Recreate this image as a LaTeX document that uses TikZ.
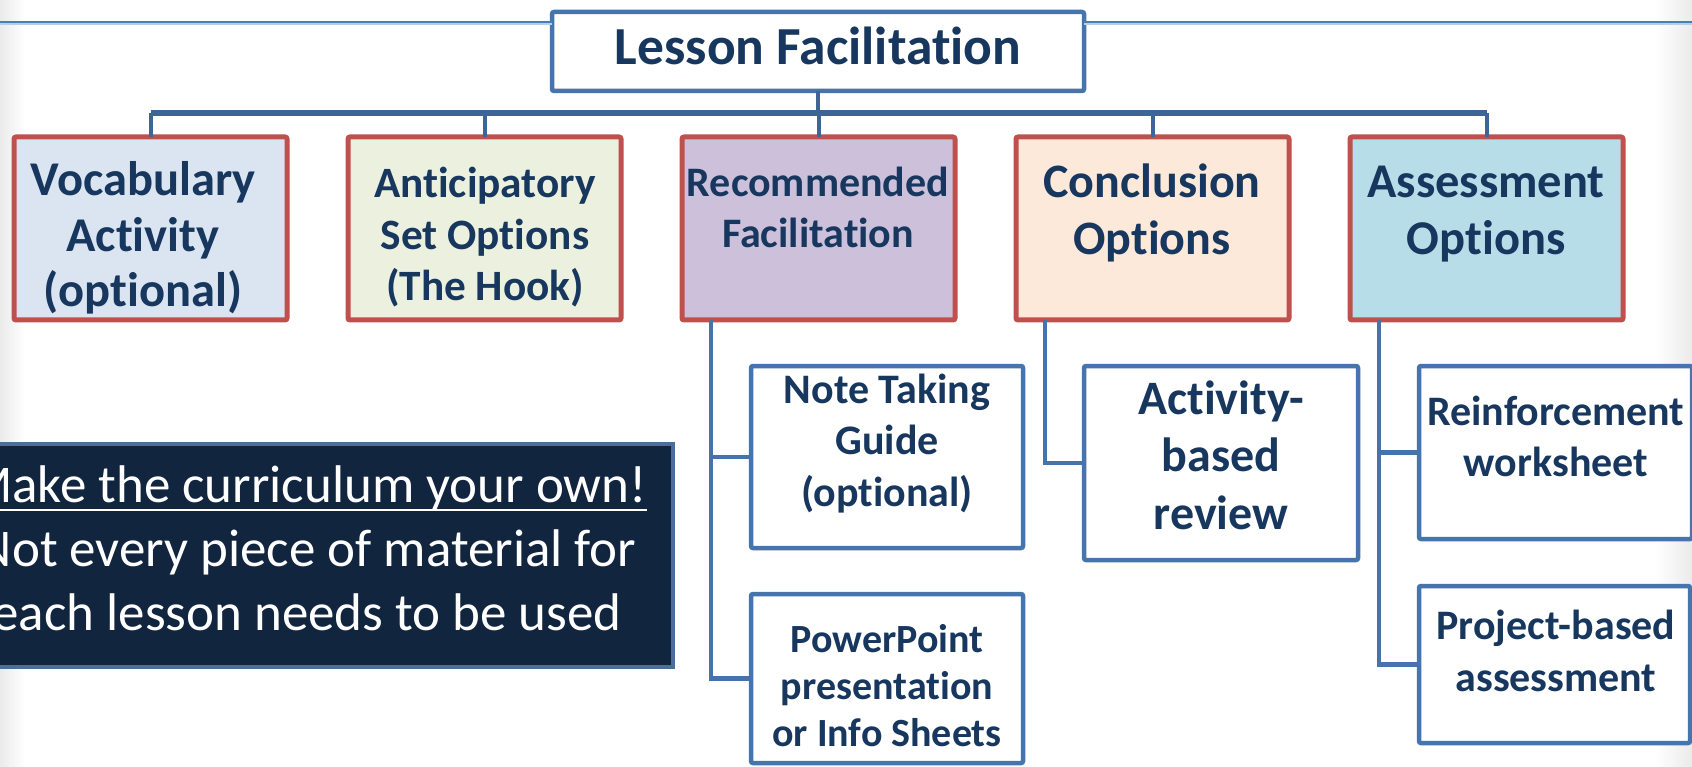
\documentclass[tikz,border=0pt]{standalone}
\usepackage{fontspec}
\setmainfont{Carlito}[Ligatures={NoCommon,NoContextual},Contextuals=NoAlternate]
\definecolor{navy}{HTML}{17375E}
\definecolor{redb}{HTML}{C0504D}
\definecolor{blueb}{HTML}{4674AC}
\definecolor{connA}{HTML}{3D6597}
\definecolor{connB}{HTML}{4673AB}
\definecolor{fvoc}{HTML}{DBE5F1}
\definecolor{fant}{HTML}{EBF1DE}
\definecolor{frec}{HTML}{CCC0DA}
\definecolor{fcon}{HTML}{FDE9D9}
\definecolor{fass}{HTML}{B7DEE8}
\definecolor{darkfill}{HTML}{12253F}
\definecolor{darkb}{HTML}{4A6E9E}
\definecolor{topline}{HTML}{4A7EBB}
\definecolor{toplight}{HTML}{B9CDE5}
\newcommand\stacktext[6]{%
  \foreach \t [count=\i] in {#6} {%
    \node[txt, font=\fontsize{#5}{#5}\selectfont\bfseries] (#1-\i) at (#2, {#3+(\i-1)*#4}) {\t};}}
\begin{document}
\begin{tikzpicture}[x=1pt,y=-1pt,
  txt/.style={inner sep=0pt, outer sep=0pt, text=navy, anchor=base},
  lvlone/.style={draw=redb, line width=5pt, rounded corners=2pt, inner sep=0pt, outer sep=0pt,
                 minimum width=273pt, minimum height=183pt},
  lvltwo/.style={draw=blueb, fill=white, line width=4.5pt, rounded corners=2pt, inner sep=0pt, outer sep=0pt},
  connup/.style={draw=connA, line width=4pt},
  barline/.style={draw=connA, line width=5.5pt},
  conndown/.style={draw=connB, line width=4.5pt}]
\useasboundingbox (0,0) rectangle (1692,767);
\clip (0,0) rectangle (1692,767);
\fill[white] (0,0) rectangle (1692,767);
\shade[left color=black!8, right color=white] (0,0) rectangle (25,767);
\shade[left color=white, right color=black!8] (1655,0) rectangle (1692,767);

% title box and top decorative line
\node[draw=blueb, fill=white, line width=4.5pt, rounded corners=2pt, inner sep=0pt, outer sep=0pt,
      minimum width=532pt, minimum height=79pt] (lesson) at (818,51.5) {};
\node[txt, font=\fontsize{53.5}{53.5}\selectfont\bfseries] (lessontxt) at (818,65) {Lesson Facilitation};
\coordinate (tl) at (0,22);
\coordinate (tr) at (1692,22);
\draw[toplight, line width=2pt] ([yshift=-2.5pt]tl) -- ([yshift=-2.5pt]tl -| lesson.west);
\draw[toplight, line width=2pt] ([yshift=-2.5pt]tr) -- ([yshift=-2.5pt]tr -| lesson.east);
\draw[topline, line width=2.5pt] (tl) -- (tl -| lesson.west);
\draw[topline, line width=2.5pt] (tr) -- (tr -| lesson.east);

% level one boxes
\node[lvlone, fill=fvoc] (voc) at (150.5,228.5) {};
\node[lvlone, fill=fant] (ant) at (484.5,228.5) {};
\node[lvlone, fill=frec] (rec) at (818.5,228.5) {};
\node[lvlone, fill=fcon] (con) at (1152.5,228.5) {};
\node[lvlone, fill=fass] (ass) at (1486.5,228.5) {};

\stacktext{voctxt}{143}{196}{55.5}{48.5}{{Vocabulary},{Activity},{(optional)}}
\stacktext{anttxt}{485}{198}{51.5}{43.3}{{Anticipatory},{Set Options},{(The Hook)}}
\stacktext{rectxt}{818}{197}{51}{42}{{Recommended},{Facilitation}}
\stacktext{contxt}{1152}{198}{57}{48}{{Conclusion},{Options}}
\stacktext{asstxt}{1486}{198}{57}{48.5}{{Assessment},{Options}}

% tree connectors
\coordinate (bar) at (818,113);
\draw[connup] (lesson.south) -- (bar);
\draw[barline] (voc.north |- bar) -- (ass.north |- bar);
\foreach \n in {voc,ant,rec,con,ass} {\draw[connup] (\n.north) -- (\n.north |- bar);}

% level two boxes
\node[lvltwo, minimum width=272pt, minimum height=182pt] (note) at (887,457) {};
\node[lvltwo, minimum width=272pt, minimum height=169pt] (ppt) at (887,678.5) {};
\node[lvltwo, minimum width=274pt, minimum height=194pt] (act) at (1221,463) {};
\node[lvltwo, minimum width=273pt, minimum height=173pt] (rei) at (1555.5,452.5) {};
\node[lvltwo, minimum width=271pt, minimum height=157pt] (pro) at (1554.5,664.5) {};

\stacktext{notetxt}{887}{403}{51.5}{42}{{Note Taking},{Guide},{(optional)}}
\stacktext{ppttxt}{887}{652}{47}{40}{{PowerPoint},{presentation},{or Info Sheets}}
\stacktext{acttxt}{1221}{414}{57.5}{48}{{Activity-},{based},{review}}
\stacktext{reitxt}{1556}{425}{51}{42}{{Reinforcement},{worksheet}}
\stacktext{protxt}{1556}{639}{52}{42}{{Project-based},{assessment}}

% lower connectors
\draw[conndown] ([xshift=29pt]rec.south west) |- (note.west);
\draw[conndown] ([xshift=29pt]rec.south west) |- (ppt.west);
\draw[conndown] ([xshift=29pt]con.south west) |- (act.west);
\draw[conndown] ([xshift=29pt]ass.south west) |- (rei.west);
\draw[conndown] ([xshift=29pt]ass.south west) |- (pro.west);

% dark note box
\node[draw=darkb, fill=darkfill, line width=4pt, inner sep=0pt, outer sep=0pt,
      minimum width=773pt, minimum height=223pt] (dark) at (286.5,555.5) {};
\node[inner sep=0pt, outer sep=0pt, text=white, anchor=base, font=\fontsize{53}{53}\selectfont] (d1) at (307,502) {Make the curriculum your own!};
\node[inner sep=0pt, outer sep=0pt, text=white, anchor=base, font=\fontsize{53}{53}\selectfont] (d2) at (307,566) {Not every piece of material for};
\node[inner sep=0pt, outer sep=0pt, text=white, anchor=base, font=\fontsize{53}{53}\selectfont] (d3) at (307,630) {each lesson needs to be used};
\draw[white, line width=2.5pt] ([yshift=-8pt]d1.base west) -- ([yshift=-8pt]d1.base east);
\end{tikzpicture}
\end{document}
